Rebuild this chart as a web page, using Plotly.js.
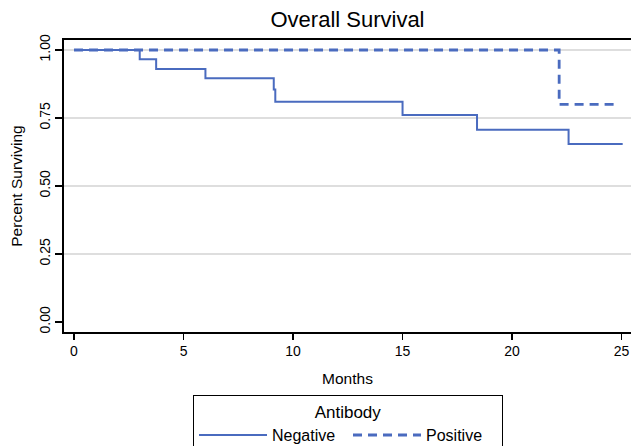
<!DOCTYPE html>
<html>
<head>
<meta charset="utf-8">
<script src="https://cdn.plot.ly/plotly-3.0.1.min.js"></script>
<style>
  html, body { margin: 0; padding: 0; background: #fff; }
  #chart { width: 631px; height: 446px; }
</style>
</head>
<body>
<div id="chart"></div>
<script>
// Kaplan-Meier step data
const negMonths   = [0, 3.0, 3.75, 6.0, 9.12, 9.19, 15.0, 18.4, 22.58, 25.05];
const negSurvival = [1.0, 0.966, 0.930, 0.896, 0.855, 0.810, 0.761, 0.707, 0.654, 0.654];
const posMonths   = [0, 22.15, 24.87];
const posSurvival = [1.0, 0.80, 0.80];
const seriesNames = ['Negative', 'Positive'];
const xTicks = [0, 5, 10, 15, 20, 25];
const yTicks = [0, 0.25, 0.5, 0.75, 1.0];
const yTickText = ['0.00', '0.25', '0.50', '0.75', '1.00'];

const blue = '#4a6bbf';
const fontFam = 'Liberation Sans, Arial, Helvetica, sans-serif';

const traces = [
  {
    x: negMonths, y: negSurvival, name: seriesNames[0],
    type: 'scatter', mode: 'lines',
    line: { shape: 'hv', color: blue, width: 2 }
  },
  {
    x: posMonths, y: posSurvival, name: seriesNames[1],
    type: 'scatter', mode: 'lines',
    line: { shape: 'hv', color: blue, width: 2.8, dash: '9px,6px' }
  }
];

const layout = {
  width: 631, height: 446,
  margin: { l: 64, r: 0, t: 40, b: 114, autoexpand: false },
  paper_bgcolor: '#ffffff',
  plot_bgcolor: '#ffffff',
  font: { family: fontFam, size: 14, color: '#000' },
  title: {
    text: 'Overall Survival',
    font: { family: fontFam, size: 22, color: '#000' },
    x: 0.5, xref: 'paper', xanchor: 'center',
    y: 1, yref: 'container', yanchor: 'top', pad: { t: 12 }
  },
  xaxis: {
    range: [-0.457, 25.43],
    tickvals: xTicks,
    ticks: 'outside', ticklen: 6, tickwidth: 1.3, tickcolor: '#000',
    showline: true, linecolor: '#000', linewidth: 1.6, mirror: true,
    showgrid: false, zeroline: false,
    tickfont: { family: fontFam, size: 14, color: '#000' },
    title: { text: 'Months', font: { family: fontFam, size: 15.5, color: '#000' }, standoff: 15 }
  },
  yaxis: {
    range: [-0.0367, 1.0367],
    tickvals: yTicks, ticktext: yTickText,
    tickangle: -90,
    ticks: 'outside', ticklen: 7, tickwidth: 1.3, tickcolor: '#000',
    showline: true, linecolor: '#000', linewidth: 1.6,
    showgrid: false, zeroline: false,
    tickfont: { family: fontFam, size: 14, color: '#000' },
    title: { text: 'Percent Surviving', font: { family: fontFam, size: 15.5, color: '#000' }, standoff: 10 }
  },
  shapes: yTicks.filter(v => v > 0).map(v => ({
    type: 'line', xref: 'paper', x0: 0, x1: 1, yref: 'y', y0: v, y1: v,
    line: { color: '#dedede', width: 2 }, layer: 'below'
  })),
  showlegend: true,
  legend: {
    orientation: 'h',
    x: 0.5009, xanchor: 'center', xref: 'paper',
    y: -0.2158, yanchor: 'top', yref: 'paper',
    bordercolor: '#000', borderwidth: 1,
    bgcolor: '#fff',
    font: { family: fontFam, size: 16, color: '#000' },
    title: { text: 'Antibody', side: 'top center', font: { family: fontFam, size: 17, color: '#000' } },
    entrywidth: 71,
    itemwidth: 68
  }
};

Plotly.newPlot('chart', traces, layout, { displayModeBar: false, staticPlot: true });
</script>
</body>
</html>
